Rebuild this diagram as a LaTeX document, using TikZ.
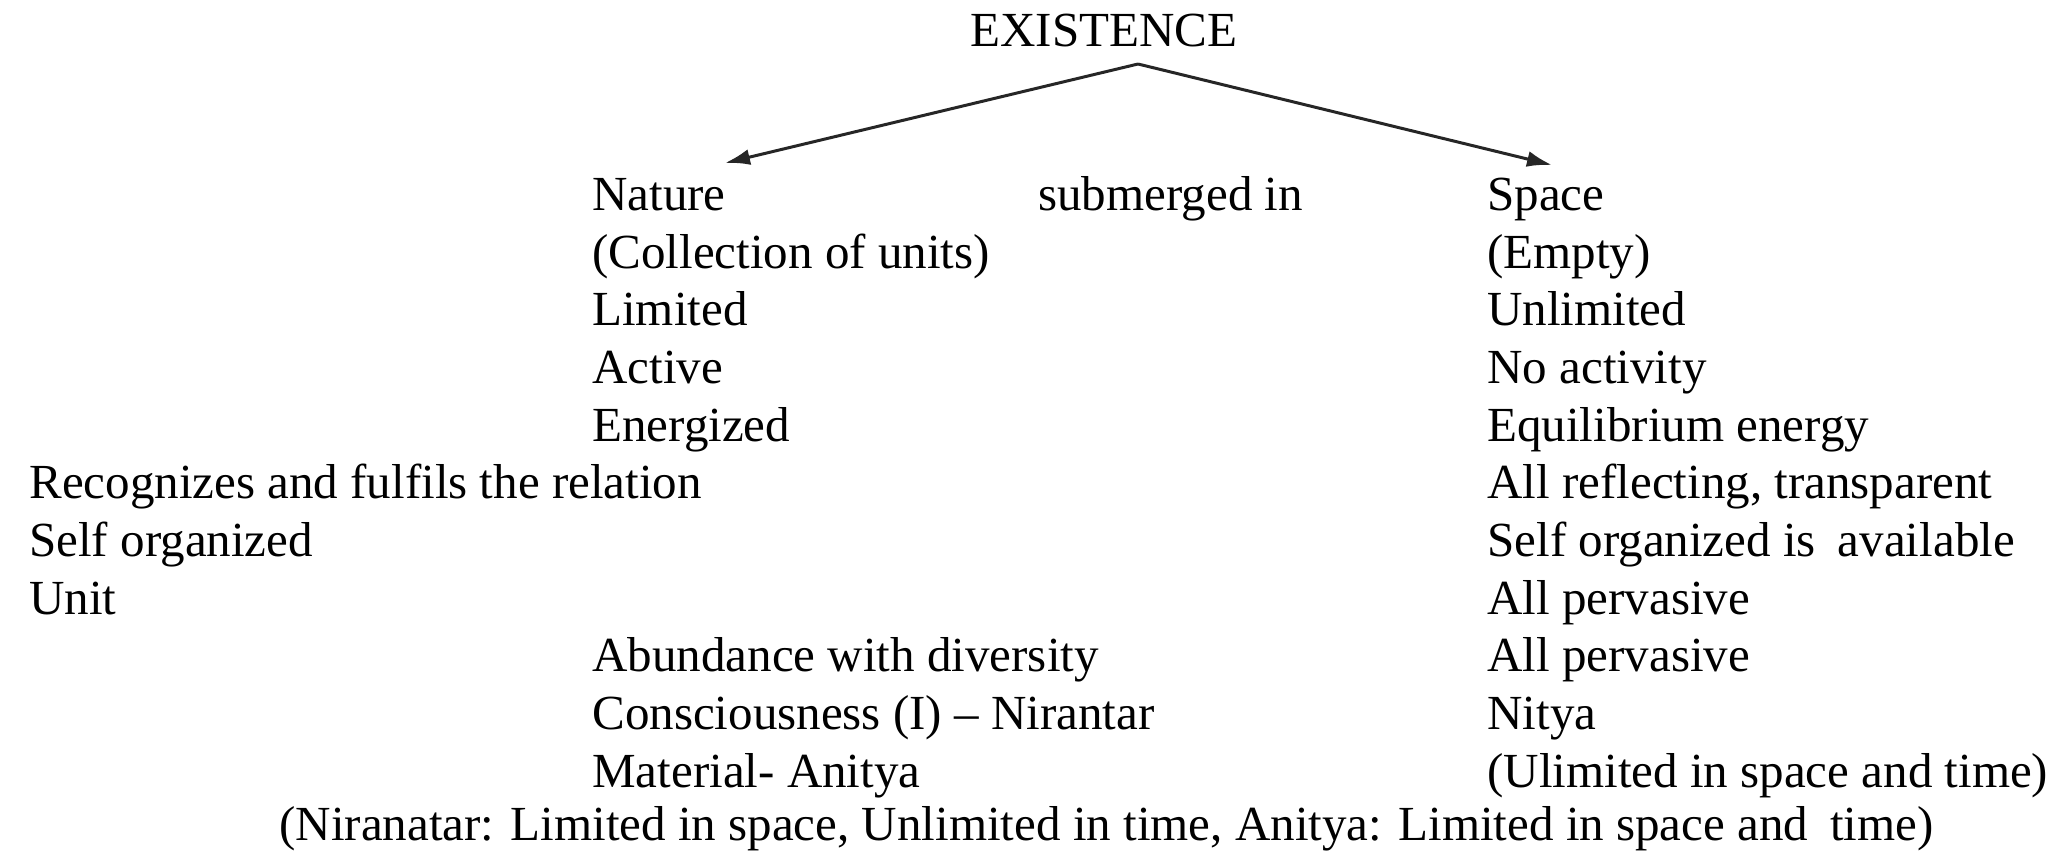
\documentclass[tikz,border=0pt]{standalone}
\usepackage{fontspec}
\setmainfont{Liberation Serif}
\usetikzlibrary{arrows.meta,positioning}

\begin{document}
\begin{tikzpicture}[x=0.02cm, y=-0.02cm, >={Latex[length=5mm,width=3.2mm]}]
  \tikzstyle{entry} = [anchor=north west, inner sep=0pt, text height=0.8cm, text depth=0.34cm, font={\fontsize{27.9}{34}\selectfont}]
  \tikzstyle{branch} = [black!85, line width=1.7pt, ->]

  \useasboundingbox (0,0) rectangle (2055,852);

  \coordinate (leftmargin) at (29,0);
  \coordinate (notemargin) at (279,0);

  % heading and column heads
  \node[entry] (existence) at (970,6) {EXISTENCE};
  \node[entry] (nature) at (592,170) {Nature};
  \node[entry] (submerged) at (1038,170) {submerged in};
  \node[entry] (space) at (1487,170) {Space};

  % nature side
  \node[below=0pt of nature.south west, entry]     (collection) {(Collection of units)};
  \node[below=0pt of collection.south west, entry] (limited) {Limited};
  \node[below=0pt of limited.south west, entry]    (active) {Active};
  \node[below=0pt of active.south west, entry]     (energized) {Energized};
  \node[entry] (recognizes) at (energized.south west -| leftmargin) {Recognizes and fulfils the relation};
  \node[below=0pt of recognizes.south west, entry] (selforg) {Self organized};
  \node[below=0pt of selforg.south west, entry]    (unit) {Unit};
  \node[entry] (abundance) at (unit.south west -| nature.west) {Abundance with diversity};
  \node[below=0pt of abundance.south west, entry]  (consciousness) {Consciousness (I) -- Nirantar};
  \node[below=0pt of consciousness.south west, entry] (material) {Material- Anitya};
  \node[entry, text depth=0.2cm, yshift=0.08cm] (footnote) at (material.south west -| notemargin) {(Niranatar: Limited in space, Unlimited in time, Anitya: Limited in space and\hspace{0.45em}time)};

  % space side
  \node[below=0pt of space.south west, entry]       (empty) {(Empty)};
  \node[below=0pt of empty.south west, entry]       (unlimited) {Unlimited};
  \node[below=0pt of unlimited.south west, entry]   (noactivity) {No activity};
  \node[below=0pt of noactivity.south west, entry]  (equilibrium) {Equilibrium energy};
  \node[below=0pt of equilibrium.south west, entry] (reflecting) {All reflecting, transparent};
  \node[below=0pt of reflecting.south west, entry]  (available) {Self organized is\hspace{0.45em}available};
  \node[below=0pt of available.south west, entry]   (pervasiveA) {All pervasive};
  \node[below=0pt of pervasiveA.south west, entry]  (pervasiveB) {All pervasive};
  \node[below=0pt of pervasiveB.south west, entry]  (nitya) {Nitya};
  \node[below=0pt of nitya.south west, entry]       (ulimited) {(Ulimited in space and time)};

  % branches
  \coordinate (apex) at (1138,64);
  \coordinate (natureTip) at (725,163);
  \coordinate (spaceTip) at (1552,165);
  \draw[branch] (apex) -- (natureTip);
  \draw[branch] (apex) -- (spaceTip);
\end{tikzpicture}
\end{document}
